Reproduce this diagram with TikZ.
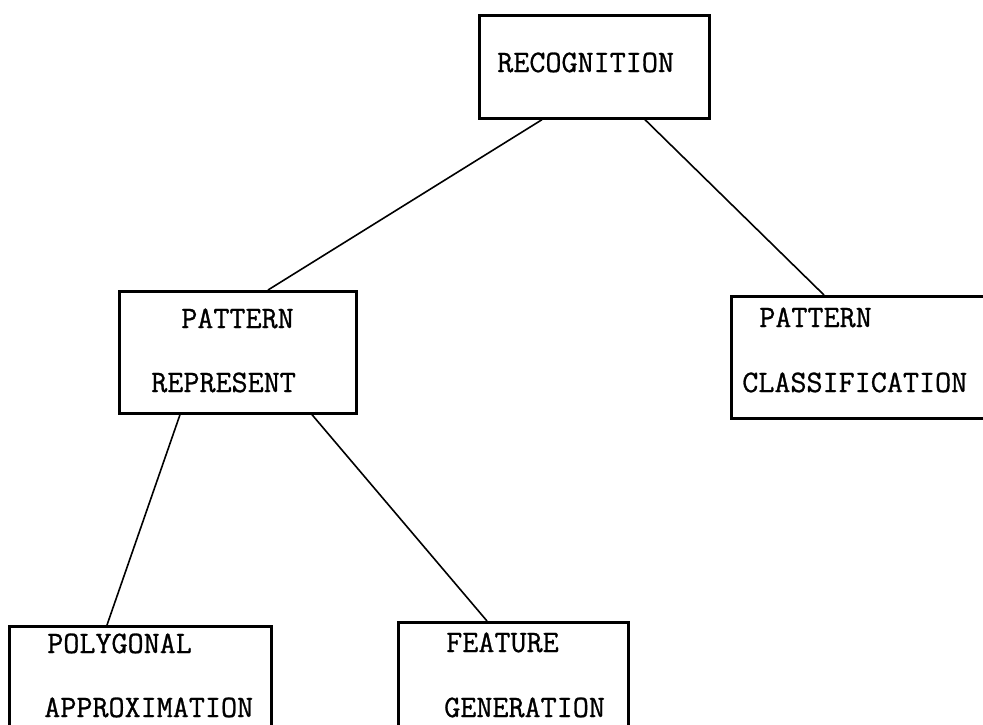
\documentclass[tikz,border=0pt]{standalone}
\usepackage{fontspec}
\newfontfamily\typewriter[FakeBold=0.9]{Latin Modern Mono}
\usetikzlibrary{calc}
\begin{document}
\begin{tikzpicture}[x=0.75pt,y=-0.75pt,
  box/.style={draw=black,line width=2pt,rectangle,inner sep=0pt,
    anchor=north west},
  link/.style={draw=black,line width=1.2pt},
  lbl/.style={anchor=base west,inner sep=0pt,
    font=\typewriter\fontsize{23.4pt}{28pt}\selectfont}]
\clip (0,0) rectangle (983,725);
\fill[white] (0,0) rectangle (983,725);

% boxes (top-left corner, size)
\node[box,minimum width=230*0.75pt,minimum height=103*0.75pt] (rec) at (478,14) {};
\node[box,minimum width=237*0.75pt,minimum height=122*0.75pt] (rep) at (118,290) {};
\node[box,minimum width=300*0.75pt,minimum height=122*0.75pt] (cls) at (730,295) {};
\node[box,minimum width=262*0.75pt,minimum height=140*0.75pt] (poly) at (8,625) {};
\node[box,minimum width=230*0.75pt,minimum height=140*0.75pt] (feat) at (397,621) {};

% labels
\node[lbl] (t1) at (497,72) {RECOGNITION};
\node[lbl] (t2) at (181,328) {PATTERN};
\node[lbl] (t3) at (151,392) {REPRESENT};
\node[lbl] (t4) at (759,327) {PATTERN};
\node[lbl] (t5) at (742,392) {CLASSIFICATION};
\node[lbl] (t6) at (47,653) {POLYGONAL};
\node[lbl] (t7) at (44,717) {APPROXIMATION};
\node[lbl] (t8) at (446,652) {FEATURE};
\node[lbl] (t9) at (444,717) {GENERATION};

% connectors
\draw[link] ($(rec.south west)+(64,0)$) -- ($(rep.north west)+(150,0)$);
\draw[link] ($(rec.south west)+(167,0)$) -- ($(cls.north west)+(94,0)$);
\draw[link] ($(rep.south west)+(62,0)$) -- ($(poly.north west)+(99,0)$);
\draw[link] ($(rep.south west)+(194,0)$) -- ($(feat.north west)+(90,0)$);
\end{tikzpicture}
\end{document}
